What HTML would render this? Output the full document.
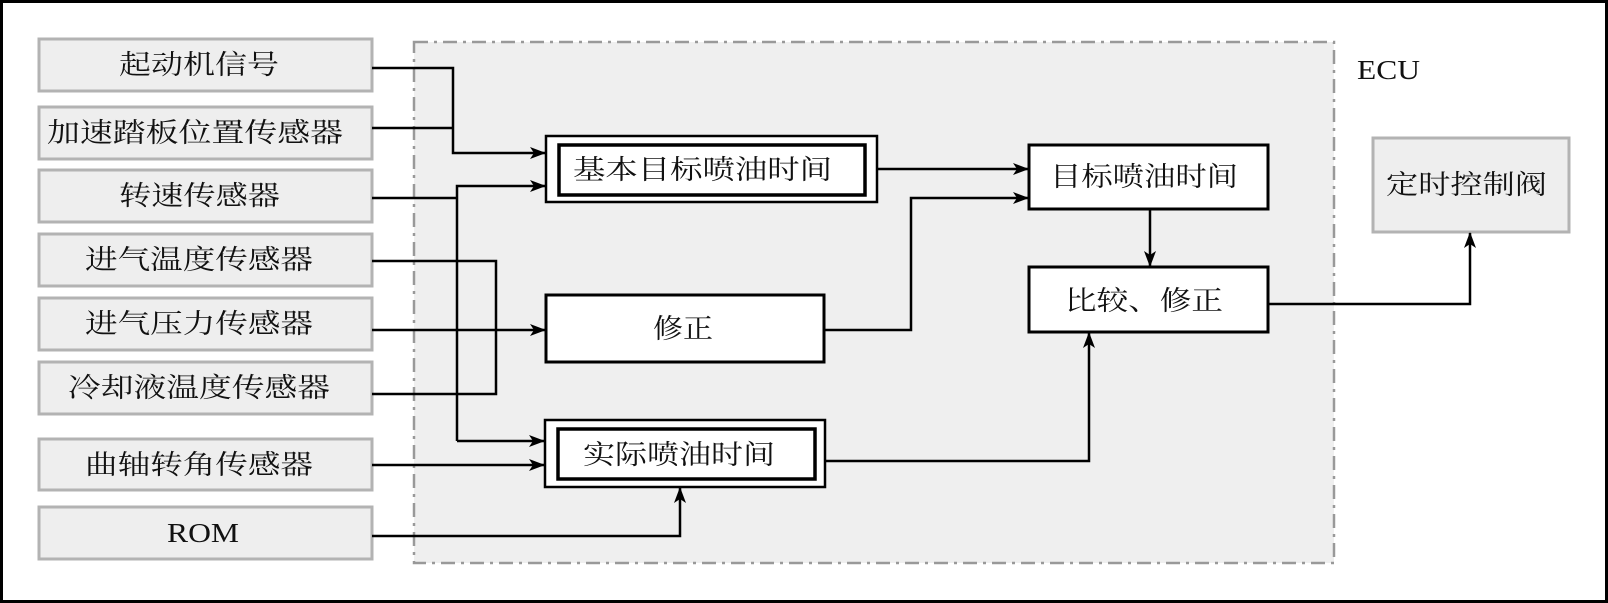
<!DOCTYPE html>
<html><head><meta charset="utf-8"><style>
html,body{margin:0;padding:0;background:#fff;}
svg{display:block;}
text{font-family:"Liberation Serif","Noto Serif CJK SC",serif;font-size:27px;fill:#111;}
</style></head><body>
<svg width="1608" height="603" viewBox="0 0 1608 603" xmlns="http://www.w3.org/2000/svg">
<defs>
<marker id="a" markerWidth="16" markerHeight="12" refX="15" refY="6" orient="auto" markerUnits="userSpaceOnUse">
<path d="M0,0 L16,6 L0,12 L4,6 Z" fill="#000"/>
</marker>
</defs>
<rect x="1.5" y="1.5" width="1605" height="600" fill="#fff" stroke="#000" stroke-width="3"/>
<rect x="414" y="42" width="920" height="521" fill="#efefef" stroke="#999" stroke-width="2.5" stroke-dasharray="14,6,3,6"/>
<text x="1357" y="79" textLength="63" lengthAdjust="spacingAndGlyphs">ECU</text>

<g fill="#eeeeee" stroke="#b3b3b3" stroke-width="3">
<rect x="39" y="39" width="333" height="52"/>
<rect x="39" y="107" width="333" height="52"/>
<rect x="39" y="170" width="333" height="52"/>
<rect x="39" y="234" width="333" height="52"/>
<rect x="39" y="298" width="333" height="52"/>
<rect x="39" y="362" width="333" height="52"/>
<rect x="39" y="439" width="333" height="51"/>
<rect x="39" y="507" width="333" height="52"/>
<rect x="1373" y="138" width="196" height="94"/>
</g>
<g dominant-baseline="central" lengthAdjust="spacingAndGlyphs">
<text x="119" y="65" textLength="160" lengthAdjust="spacingAndGlyphs">起动机信号</text>
<text x="47" y="133" textLength="296" lengthAdjust="spacingAndGlyphs">加速踏板位置传感器</text>
<text x="119" y="196" textLength="161" lengthAdjust="spacingAndGlyphs">转速传感器</text>
<text x="85" y="260" textLength="228" lengthAdjust="spacingAndGlyphs">进气温度传感器</text>
<text x="85" y="324" textLength="228" lengthAdjust="spacingAndGlyphs">进气压力传感器</text>
<text x="68" y="388" textLength="262" lengthAdjust="spacingAndGlyphs">冷却液温度传感器</text>
<text x="85" y="465" textLength="228" lengthAdjust="spacingAndGlyphs">曲轴转角传感器</text>
<text x="167" y="533" textLength="72" lengthAdjust="spacingAndGlyphs">ROM</text>
<text x="1386" y="185" textLength="161" lengthAdjust="spacingAndGlyphs">定时控制阀</text>
</g>

<g fill="#fff" stroke="#000">
<rect x="546" y="136" width="331" height="66" stroke-width="2.5"/>
<rect x="559" y="145" width="306" height="50" stroke-width="3.5"/>
<rect x="546" y="295" width="278" height="67" stroke-width="3"/>
<rect x="545" y="420" width="280" height="67" stroke-width="2.5"/>
<rect x="558" y="429" width="257" height="50" stroke-width="3.5"/>
<rect x="1029" y="145" width="239" height="64" stroke-width="3"/>
<rect x="1029" y="267" width="239" height="65" stroke-width="3"/>
</g>
<g dominant-baseline="central">
<text x="573" y="170" textLength="259" lengthAdjust="spacingAndGlyphs">基本目标喷油时间</text>
<text x="653" y="329" textLength="60" lengthAdjust="spacingAndGlyphs">修正</text>
<text x="583" y="455" textLength="192" lengthAdjust="spacingAndGlyphs">实际喷油时间</text>
<text x="1050" y="177" textLength="188" lengthAdjust="spacingAndGlyphs">目标喷油时间</text>
<text x="1065" y="301" textLength="158" lengthAdjust="spacingAndGlyphs">比较、修正</text>
</g>

<g fill="none" stroke="#000" stroke-width="2.5">
<polyline points="372,68 453,68 453,153 545,153" marker-end="url(#a)"/>
<line x1="372" y1="128" x2="453" y2="128"/>
<line x1="372" y1="198" x2="457" y2="198"/>
<polyline points="457,441 457,186 545,186" marker-end="url(#a)"/>
<line x1="457" y1="441" x2="544" y2="441" marker-end="url(#a)"/>
<polyline points="372,261 496,261 496,394 372,394"/>
<line x1="372" y1="330" x2="545" y2="330" marker-end="url(#a)"/>
<line x1="372" y1="465" x2="544" y2="465" marker-end="url(#a)"/>
<polyline points="372,536 680,536 680,488" marker-end="url(#a)"/>
<line x1="877" y1="169" x2="1028" y2="169" marker-end="url(#a)"/>
<polyline points="824,330 911,330 911,198 1028,198" marker-end="url(#a)"/>
<line x1="1150" y1="209" x2="1150" y2="266" marker-end="url(#a)"/>
<polyline points="825,461 1089,461 1089,333" marker-end="url(#a)"/>
<polyline points="1268,304 1470,304 1470,233" marker-end="url(#a)"/>
</g>
</svg>
</body></html>
